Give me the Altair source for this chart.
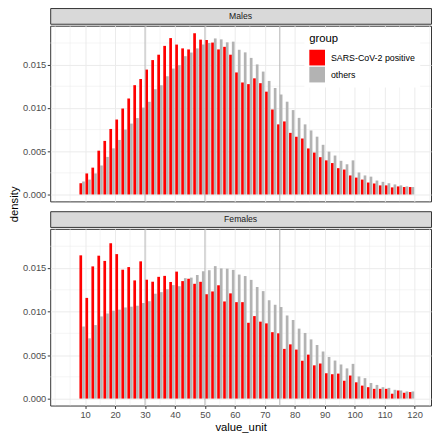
import altair as alt
import pandas as pd

# ---- data ----
bins = list(range(9, 121, 2))  # histogram bin centres, width 2
groups = ["SARS-CoV-2 positive", "others"]
colors = ["#FF0000", "#B3B3B3"]
panels = ["Males", "Females"]

males_pos = [0.00130, 0.00243, 0.00310, 0.00506, 0.00619, 0.00757, 0.00866, 0.00993,
             0.01109, 0.01263, 0.01334, 0.01443, 0.01553, 0.01615, 0.01717, 0.01807,
             0.01732, 0.01688, 0.01676, 0.01863, 0.01789, 0.01785, 0.01755, 0.01676,
             0.01706, 0.01615, 0.01410, 0.01294, 0.01275, 0.01342, 0.01286, 0.01188,
             0.00982, 0.00810, 0.00844, 0.00712, 0.00667, 0.00648, 0.00532, 0.00484,
             0.00431, 0.00394, 0.00363, 0.00304, 0.00288, 0.00220, 0.00195, 0.00172,
             0.00138, 0.00127, 0.00105, 0.00105, 0.00082, 0.00093, 0.00086, 0.00086]
males_oth = [0.00150, 0.00172, 0.00243, 0.00335, 0.00434, 0.00533, 0.00630, 0.00750,
             0.00819, 0.00883, 0.01004, 0.01071, 0.01216, 0.01262, 0.01366, 0.01455,
             0.01494, 0.01598, 0.01640, 0.01688, 0.01733, 0.01750, 0.01803, 0.01792,
             0.01758, 0.01766, 0.01672, 0.01642, 0.01578, 0.01503, 0.01420, 0.01312,
             0.01230, 0.01155, 0.01072, 0.00975, 0.00885, 0.00810, 0.00740, 0.00668,
             0.00574, 0.00495, 0.00450, 0.00389, 0.00349, 0.00394, 0.00254, 0.00220,
             0.00206, 0.00161, 0.00146, 0.00130, 0.00116, 0.00105, 0.00093, 0.00086]
females_pos = [0.01646, 0.01157, 0.01519, 0.01642, 0.01582, 0.01785, 0.01660, 0.01481,
               0.01511, 0.01358, 0.01577, 0.01366, 0.01343, 0.01399, 0.01410, 0.01340,
               0.01459, 0.01350, 0.01377, 0.01319, 0.01342, 0.01199, 0.01231, 0.01302,
               0.01116, 0.01209, 0.01108, 0.01108, 0.00871, 0.00948, 0.00884, 0.00864,
               0.00763, 0.00750, 0.00571, 0.00623, 0.00563, 0.00436, 0.00505, 0.00382,
               0.00403, 0.00291, 0.00280, 0.00287, 0.00205, 0.00265, 0.00187, 0.00149,
               0.00131, 0.00112, 0.00112, 0.00112, 0.00056, 0.00093, 0.00067, 0.00075]
females_oth = [0.00828, 0.00692, 0.00845, 0.00944, 0.00978, 0.01010, 0.01022, 0.01047,
               0.01056, 0.01067, 0.01098, 0.01119, 0.01205, 0.01223, 0.01257, 0.01304,
               0.01291, 0.01384, 0.01390, 0.01420, 0.01463, 0.01475, 0.01522, 0.01496,
               0.01493, 0.01479, 0.01425, 0.01408, 0.01364, 0.01282, 0.01235, 0.01130,
               0.01078, 0.01052, 0.00955, 0.00903, 0.00804, 0.00754, 0.00680, 0.00616,
               0.00541, 0.00478, 0.00437, 0.00392, 0.00347, 0.00399, 0.00254, 0.00235,
               0.00179, 0.00157, 0.00131, 0.00123, 0.00101, 0.00093, 0.00082, 0.00082]

x_ticks = list(range(10, 121, 10))
x_minor = [0] + list(range(5, 126, 10))
y_ticks = [0.0, 0.005, 0.010, 0.015]
y_minor = [0.0025, 0.0075, 0.0125, 0.0175]
vlines = [30, 50, 75]

FONT = "Liberation Sans"
PW, PH_M, PH_F, SH = 388, 179, 180, 16

xscale = alt.Scale(domain=[-1.66, 125.5], nice=False, zero=False)
yscale = alt.Scale(domain=[-0.0008, 0.0195], nice=False, zero=False)


def frame(pos, oth):
    return pd.DataFrame({
        "bin": bins + bins,
        "group": [groups[0]] * len(bins) + [groups[1]] * len(bins),
        "density": pos + oth,
    })


def x_axis(show):
    if show:
        return alt.Axis(values=x_ticks, format="d", labelFontSize=9.5, labelColor="#4d4d4d",
                        labelPadding=1.5, labelFlush=False, tickSize=3, tickColor="#333333",
                        domain=False, grid=True, gridColor="#ebebeb", gridWidth=1,
                        title="value_unit", titleFontSize=11.5, titleFontWeight="normal",
                        titleColor="black", titlePadding=2)
    return alt.Axis(values=x_ticks, labels=False, ticks=False, domain=False, grid=True,
                    gridColor="#ebebeb", gridWidth=1, title=None)


y_axis = alt.Axis(values=y_ticks, format=".3f", labelFontSize=9.5, labelColor="#4d4d4d",
                  labelPadding=1.5, tickSize=3, tickColor="#333333", domain=False,
                  grid=True, gridColor="#ebebeb", gridWidth=1, title=None)


def panel(pos, oth, show_x, legend, height):
    xa = x_axis(show_x)
    minor_x = alt.Chart(pd.DataFrame({"v": x_minor})).mark_rule(
        color="#ebebeb", strokeWidth=0.5).encode(x=alt.X("v:Q", scale=xscale, axis=xa))
    minor_y = alt.Chart(pd.DataFrame({"v": y_minor})).mark_rule(
        color="#ebebeb", strokeWidth=0.5).encode(y=alt.Y("v:Q", scale=yscale, axis=y_axis))
    bars = alt.Chart(frame(pos, oth)).transform_calculate(
        x0="datum.bin + (datum.group == 'others' ? 0 : -0.9)",
        x1="datum.bin + (datum.group == 'others' ? 0.9 : 0)",
    ).mark_bar().encode(
        x=alt.X("x0:Q", scale=xscale, axis=xa),
        x2="x1:Q",
        y=alt.Y("density:Q", scale=yscale, axis=y_axis),
        y2=alt.datum(0),
        color=alt.Color("group:N", scale=alt.Scale(domain=groups, range=colors), legend=legend),
    )
    vl = alt.Chart(pd.DataFrame({"v": vlines})).mark_rule(
        color="#a8a8a8", strokeWidth=0.8).encode(x=alt.X("v:Q", scale=xscale, axis=xa))
    return alt.layer(minor_x, minor_y, bars, vl).properties(width=PW, height=height)


def strip(label):
    return alt.Chart(pd.DataFrame({"label": [label]})).mark_text(
        fontSize=8.8, color="#1a1a1a", baseline="middle", align="center"
    ).encode(text="label:N", x=alt.value(PW / 2), y=alt.value(SH / 2)).properties(
        width=PW, height=SH, view=alt.ViewBackground(fill="#d9d9d9", stroke="#333333"))


legend = alt.Legend(orient="none", legendX=259, legendY=3.0, title="group",
                    titleFontSize=11.5, titleFontWeight="normal", titleColor="black",
                    titlePadding=5, labelFontSize=9, labelColor="black", labelOffset=6,
                    symbolType="square", symbolSize=256, symbolStrokeWidth=0,
                    rowPadding=1.3, fillColor="white", padding=5)

panel_m = panel(males_pos, males_oth, False, legend, PH_M)
panel_f = panel(females_pos, females_oth, True, None, PH_F)

top = alt.vconcat(strip(panels[0]), panel_m, spacing=0).resolve_scale(color="independent")
bottom = alt.vconcat(strip(panels[1]), panel_f, spacing=0).resolve_scale(color="independent")
right = alt.vconcat(top, bottom, spacing=8).resolve_scale(color="independent")

ytitle = alt.Chart(pd.DataFrame({"t": ["density"]})).mark_text(
    angle=270, fontSize=11.5, baseline="middle", align="center", color="black"
).encode(text="t:N", x=alt.value(5), y=alt.value(200)).properties(
    width=11, height=PH_M + PH_F + 2 * SH + 8, view=alt.ViewBackground(stroke="transparent"))

chart = alt.hconcat(ytitle, right, spacing=0).resolve_scale(color="independent").properties(
    padding={"left": 0, "top": -5, "right": 0, "bottom": 0}
).configure(font=FONT).configure_view(stroke="#333333", strokeWidth=1)

chart.save("out.html", embed_options={"renderer": "svg", "actions": False})
